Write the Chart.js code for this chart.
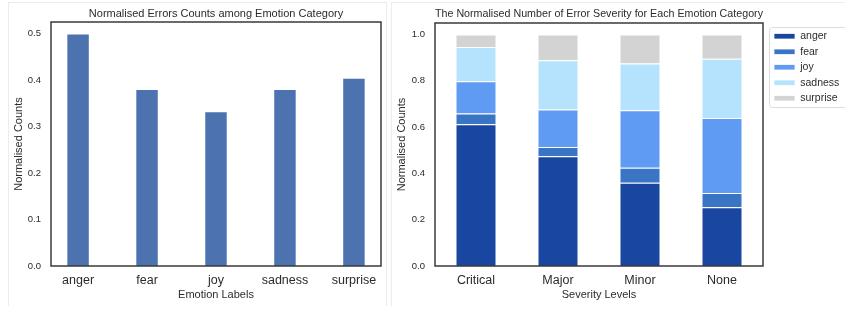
<!DOCTYPE html>
<html lang="en">
<head>
  <meta charset="UTF-8">
  <title>Emotion error charts</title>
  <script src="https://cdn.jsdelivr.net/npm/chart.js"></script>
  <style>
    body {
      margin: 0;
      width: 845px;
      height: 309px;
      overflow: hidden;
      background: #fff;
      position: relative;
    }
    .panel {
      position: absolute;
      top: 2px;
      height: 303px;
      border-top: 1px solid #ececec;
      border-left: 1px solid #ececec;
      border-right: 1px solid #ececec;
    }
    canvas {
      position: absolute;
      top: 0;
    }
  </style>
</head>
<body>
  <div class="panel" style="left:8px; width:377px;"></div>
  <div class="panel" style="left:391px; width:470px;"></div>
  <canvas id="errorsChart" width="387" height="305" style="left:0"></canvas>
  <canvas id="severityChart" width="454" height="305" style="left:391px"></canvas>

  <script>
    // data
    const emotions = ["anger", "fear", "joy", "sadness", "surprise"];
    const errorShare = [0.5, 0.381, 0.333, 0.381, 0.405];

    const severities = ["Critical", "Major", "Minor", "None"];
    const angerShare = [0.612, 0.474, 0.360, 0.254];
    const fearShare = [0.047, 0.040, 0.064, 0.061];
    const joyShare = [0.139, 0.162, 0.249, 0.325];
    const sadnessShare = [0.148, 0.213, 0.202, 0.256];
    const surpriseShare = [0.054, 0.111, 0.125, 0.104];

    const emotionColors = ["#1846a0", "#3a74c4", "#5f9bf2", "#b5e3fd", "#d3d3d3"];

    Chart.defaults.font.family = "'Liberation Sans', Arial, sans-serif";
    Chart.defaults.color = "#2b2b2b";
    Chart.defaults.animation = false;

    // dark box round the plot area, like the matplotlib spines
    const frame = {
      id: "frame",
      afterDatasetsDraw(chart) {
        const a = chart.chartArea;
        const ctx = chart.ctx;
        ctx.save();
        ctx.strokeStyle = "#3a3a3a";
        ctx.lineWidth = 1.5;
        ctx.strokeRect(a.left, a.top, a.right - a.left, a.bottom - a.top);
        ctx.restore();
      }
    };

    // left: normalised error counts
    new Chart(document.getElementById("errorsChart"), {
      type: "bar",
      data: {
        datasets: [{
          data: emotions.map((e, i) => ({ x: i, y: errorShare[i] })),
          backgroundColor: "#4c72b0",
          borderColor: "rgba(255,255,255,0.6)",
          borderWidth: 1,
          barPercentage: 0.34,
          categoryPercentage: 1
        }]
      },
      options: {
        responsive: false,
        devicePixelRatio: 1,
        layout: { padding: { left: 0, right: 6, top: 0, bottom: 0 } },
        plugins: {
          legend: { display: false },
          tooltip: { enabled: false },
          title: {
            display: true,
            text: "Normalised Errors Counts among Emotion Category",
            fullSize: false,
            font: { size: 11, weight: "normal" },
            padding: { top: 7.4, bottom: 1.4 }
          }
        },
        scales: {
          x: {
            type: "linear",
            min: -0.3925,
            max: 4.3925,
            offset: false,
            grid: { display: false, drawTicks: false },
            border: { display: false },
            afterBuildTicks: s => { s.ticks = emotions.map((e, i) => ({ value: i })); },
            afterFit: s => { s.height = 39; },
            ticks: {
              callback: v => emotions[v],
              font: { size: 12.5 },
              padding: 7,
              maxRotation: 0
            },
            title: {
              display: true,
              text: "Emotion Labels",
              font: { size: 11 },
              padding: { top: 3.4, bottom: 3.4 }
            }
          },
          y: {
            min: 0,
            max: 0.525,
            grid: { display: false, drawTicks: false },
            border: { display: false },
            afterBuildTicks: s => { s.ticks = [0, 0.1, 0.2, 0.3, 0.4, 0.5].map(v => ({ value: v })); },
            afterFit: s => { s.width = 51; },
            ticks: {
              callback: v => v.toFixed(1),
              font: { size: 9.5 },
              padding: 10
            },
            title: {
              display: true,
              text: "Normalised Counts",
              font: { size: 11 },
              padding: { top: 12, bottom: 12 }
            }
          }
        }
      },
      plugins: [frame]
    });

    // right: stacked severity shares
    const severitySeries = [angerShare, fearShare, joyShare, sadnessShare, surpriseShare];

    const legendBox = {
      id: "legendBox",
      afterLayout(chart) {
        const lg = chart.legend;
        lg.left += 6; lg.right += 6;
        lg.top += 3; lg.bottom += 3;
      },
      beforeDraw(chart) {
        const lg = chart.legend;
        const ctx = chart.ctx;
        ctx.save();
        ctx.strokeStyle = "#dcdcdc";
        ctx.lineWidth = 1;
        ctx.beginPath();
        ctx.roundRect(lg.left + 0.5, 27.5, 120, 80, 3);
        ctx.stroke();
        ctx.restore();
      }
    };

    new Chart(document.getElementById("severityChart"), {
      type: "bar",
      data: {
        labels: severities,
        datasets: emotions.map((e, i) => ({
          label: e,
          data: severitySeries[i],
          backgroundColor: emotionColors[i],
          borderColor: "rgba(255,255,255,0.75)",
          borderWidth: 1,
          barPercentage: 0.5,
          categoryPercentage: 1
        }))
      },
      options: {
        responsive: false,
        devicePixelRatio: 1,
        layout: { padding: { left: 0, right: 12, top: 0, bottom: 0 } },
        plugins: {
          tooltip: { enabled: false },
          title: {
            display: true,
            text: "The Normalised Number of Error Severity for Each Emotion Category",
            fullSize: false,
            font: { size: 11, weight: "normal" },
            padding: { top: 7.1, bottom: 2.7 }
          },
          legend: {
            position: "right",
            align: "start",
            fullSize: false,
            maxWidth: 70,
            labels: {
              boxWidth: 21,
              boxHeight: 5.5,
              padding: 5,
              font: { size: 10.5 },
              color: "#2b2b2b"
            }
          }
        },
        scales: {
          x: {
            stacked: true,
            grid: { display: false, drawTicks: false },
            border: { display: false },
            afterFit: s => { s.height = 39; },
            ticks: { font: { size: 12.5 }, padding: 7, maxRotation: 0 },
            title: {
              display: true,
              text: "Severity Levels",
              font: { size: 11 },
              padding: { top: 3.4, bottom: 3.4 }
            }
          },
          y: {
            stacked: true,
            min: 0,
            max: 1.05,
            grid: { display: false, drawTicks: false },
            border: { display: false },
            afterBuildTicks: s => { s.ticks = [0, 0.2, 0.4, 0.6, 0.8, 1.0].map(v => ({ value: v })); },
            afterFit: s => { s.width = 44; },
            ticks: {
              callback: v => v.toFixed(1),
              font: { size: 9.5 },
              padding: 10
            },
            title: {
              display: true,
              text: "Normalised Counts",
              font: { size: 11 },
              padding: { top: 3.9, bottom: 3.9 }
            }
          }
        }
      },
      plugins: [frame, legendBox]
    });
  </script>
</body>
</html>
